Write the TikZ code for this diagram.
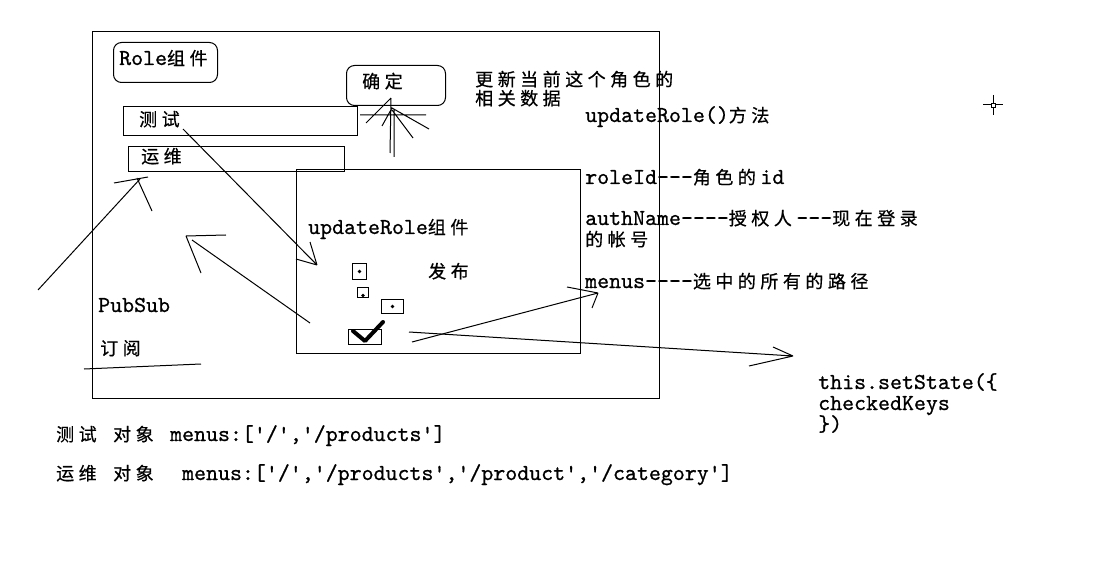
\documentclass[tikz,border=0pt]{standalone}
\usepackage{fontspec}
\setmonofont{lmmono10-regular.otf}[FakeBold=0.8]
\newfontfamily\cjkfont[LetterSpace=25, FakeBold=0.6]{Noto Sans CJK SC}
\newcommand\zh[1]{{\fontsize{18}{21}\selectfont\cjkfont #1\kern4.5pt}}
\usetikzlibrary{positioning, calc}

\begin{document}
\begin{tikzpicture}[
    x=1pt, y=-1pt,
    font=\ttfamily\fontsize{22.8}{21}\selectfont,
    boxframe/.style={draw, line width=1pt, anchor=north west, inner sep=0pt},
    roundframe/.style={boxframe, rounded corners=8pt},
    txt/.style={anchor=base west, inner sep=0pt},
    stroke/.style={line width=1pt}
]
\useasboundingbox (0,0) rectangle (1105,561);

% Frames
\node[boxframe, minimum width=567, minimum height=367] (outer) at (92,31) {};
\node[roundframe, minimum width=104, minimum height=40] (rolebox) at (113,42) {};
\node[roundframe, minimum width=99, minimum height=40] (okbox) at (346,65) {};
\node[boxframe, minimum width=234, minimum height=29] (testbox) at (123,106) {};
\node[boxframe, minimum width=216, minimum height=25] (opsbox) at (128,146) {};
\node[boxframe, minimum width=284, minimum height=184] (updbox) at (296,169) {};

% Texts in the frames
\node[txt] (roletext) at (119,65) {Role\zh{组件}};
\node[txt] (oktext) at (362,88) {\zh{确定}};
\node[txt] (testtext) at (139,126) {\zh{测试}};
\node[txt] (opstext) at (141,163) {\zh{运维}};
\node[txt] (updtext) at (308,234) {updateRole\zh{组件}};
\node[txt] (pubtext) at (428,278) {\zh{发布}};
\node[txt] (pubsub) at (98,312) {PubSub};
\node[txt] (subtext) at (100,355) {\zh{订阅}};

% Tree of menus
\node[boxframe, minimum width=14, minimum height=16] (menu1) at (352,263) {};
\node[boxframe, minimum width=11, minimum height=10] (menu2) at (357,287) {};
\node[boxframe, minimum width=22, minimum height=14] (menu3) at (381,299) {};
\node[boxframe, minimum width=33, minimum height=15] (checkbox) at (348,329) {};
\fill (menu1.center) circle (1.8);
\fill ([yshift=-3]menu2.center) circle (1.8);
\fill (menu3.center) circle (1.8);
\draw[line width=4pt, line cap=round, line join=round] (353,331) -- (365,341) -- (383,322);

% Notes on the right
\node[txt] (note1) at (475,86) {\zh{更新当前这个角色的}};
\node[txt] (note2) at (475,105) {\zh{相关数据}};
\node[txt] (method) at (585,122) {updateRole()\zh{方法}};
\node[txt] (roleid) at (585,184) {roleId---\zh{角色的}id};
\node[txt] (auth1) at (585,225) {authName----\zh{授权人}---\zh{现在登录}};
\node[txt] (auth2) at (585,246) {\zh{的帐号}};
\node[txt] (menus) at (585,288) {menus----\zh{选中的所有的路径}};
\node[txt] (state1) at (818,389) {this.setState(\{};
\node[txt] (state2) at (818,410) {checkedKeys};
\node[txt] (state3) at (818,431) {\})};

% Objects below
\node[txt] (testmenus) at (56,441) {\zh{测试} \zh{对象} menus:['/','/products']};
\node[txt] (opsmenus) at (56,480) {\zh{运维} \zh{对象}\ \ menus:['/','/products','/product','/category']};

% Hand drawn arrows
\coordinate (tipupd) at (317,265);
\draw[stroke] (183,129) -- (tipupd) (tipupd) -- ++(-7,-23) (tipupd) -- ++(-21,-6);
\coordinate (tipsub) at (186,236);
\draw[stroke] (310,323) -- (192,240) (tipsub) -- ++(40,-1) (tipsub) -- ++(15,37);
\coordinate (tipops) at (140,179);
\draw[stroke] (38,290) -- (tipops) ($(tipops)+(-26,4)$) -- ++(34,-6) ($(tipops)+(-3,-1)$) -- ++(15,33);
\draw[stroke] (84,369) -- (201,364);
\coordinate (tipok) at (391,98);
\draw[stroke] (390,153) -- (tipok) (394,157) -- (394,110)
    (366,123) -- (tipok) (382,126) -- (392,108) -- (429,129)
    (392,110) -- (413,138) (360,115) -- (426,115);
\coordinate (tipmenus) at (598,293);
\draw[stroke] (412,342) -- (tipmenus) (tipmenus) -- ++(-31,-6) (tipmenus) -- ++(-6,15);
\coordinate (tipstate) at (793,356);
\draw[stroke] (409,332) -- (tipstate) (tipstate) -- ++(-20,-9) (tipstate) -- ++(-44,10);

% Cursor mark
\coordinate (cursor) at (993,105);
\draw[stroke] (993,95) -- (993,115) (983,105) -- (1003,105);
\filldraw[fill=white, line width=0.8pt] ($(cursor)+(-2,-2)$) rectangle ++(4,4);
\end{tikzpicture}
\end{document}
